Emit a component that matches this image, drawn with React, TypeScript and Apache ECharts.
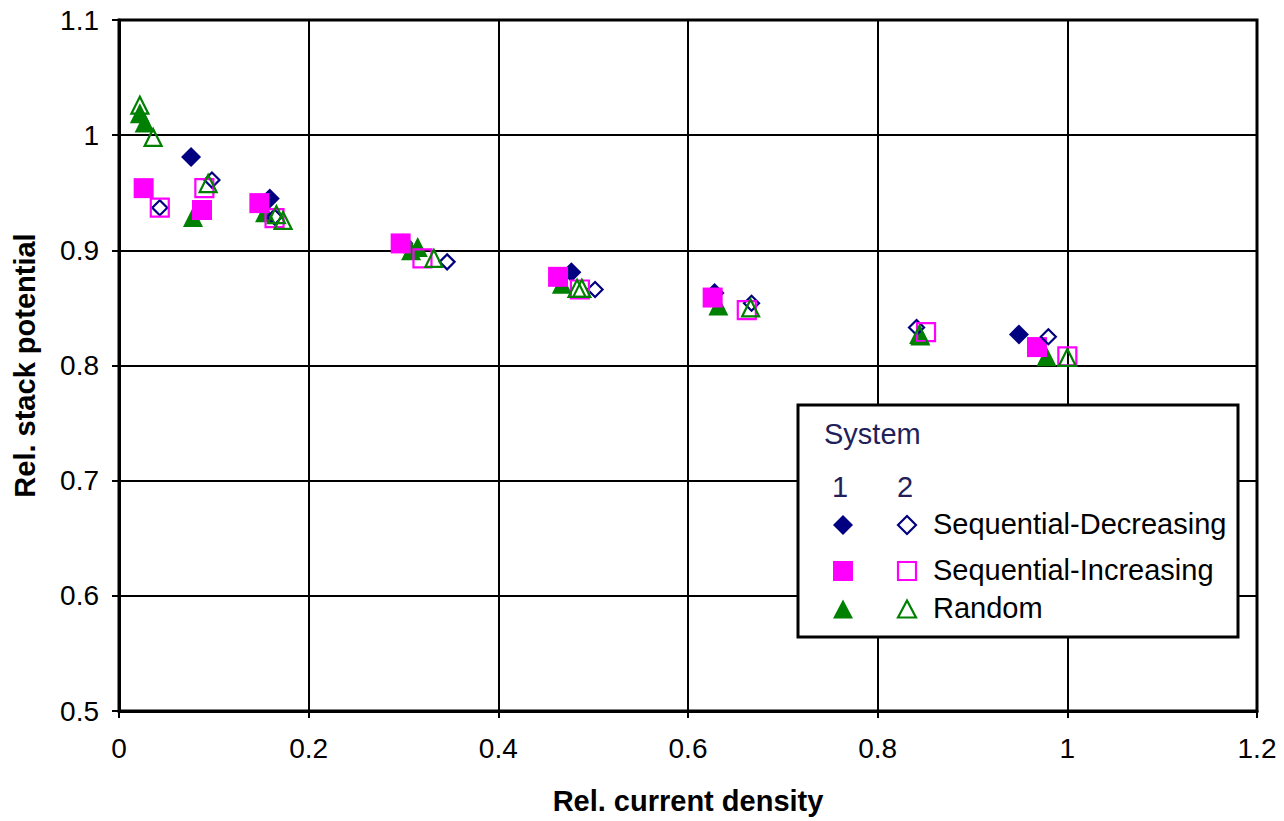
import React, { useEffect, useRef } from "react";
import * as echarts from "echarts";

// System 1 (filled markers)
const sys1Decreasing: number[][] = [
  [0.076, 0.981], [0.159, 0.945], [0.300, 0.906], [0.477, 0.881], [0.628, 0.863], [0.949, 0.827],
];
const sys1Increasing: number[][] = [
  [0.026, 0.954], [0.0875, 0.935], [0.148, 0.941], [0.297, 0.906], [0.463, 0.877], [0.626, 0.859], [0.968, 0.816],
];
const sys1Random: number[][] = [
  [0.022, 1.019], [0.027, 1.011], [0.078, 0.929], [0.154, 0.933], [0.308, 0.900], [0.315, 0.903],
  [0.467, 0.871], [0.632, 0.852], [0.845, 0.826], [0.978, 0.808],
];
// System 2 (open markers)
const sys2Decreasing: number[][] = [
  [0.043, 0.937], [0.098, 0.961], [0.164, 0.929], [0.346, 0.890], [0.502, 0.866], [0.667, 0.854], [0.841, 0.833], [0.980, 0.825],
];
const sys2Increasing: number[][] = [
  [0.043, 0.937], [0.090, 0.954], [0.164, 0.928], [0.320, 0.893], [0.486, 0.866], [0.662, 0.848], [0.851, 0.829], [1.0, 0.808],
];
const sys2Random: number[][] = [
  [0.022, 1.026], [0.036, 0.998], [0.094, 0.958], [0.166, 0.931], [0.173, 0.926], [0.332, 0.893],
  [0.483, 0.867], [0.488, 0.867], [0.666, 0.850], [0.844, 0.827], [1.0, 0.807],
];

const legendHeader = "System";
const legendColumns = ["1", "2"];
const legendLabels = ["Sequential-Decreasing", "Sequential-Increasing", "Random"];

const NAVY = "#000080";
const MAGENTA = "#ff00ff";
const GREEN = "#008000";
const FONT = "Liberation Sans, Arial, sans-serif";

export default function App() {
  const ref = useRef<HTMLDivElement>(null);
  useEffect(() => {
    if (!ref.current) return;
    const chart = echarts.init(ref.current, null, { renderer: "svg" });

    const filled = (name: string, data: number[][], symbol: string, size: number, color: string) => ({
      name, type: "scatter", data, symbol, symbolSize: size,
      itemStyle: { color, opacity: 1 },
      emphasis: { disabled: true },
    });
    const open = (name: string, data: number[][], symbol: string, size: number, color: string) => ({
      name, type: "scatter", data, symbol, symbolSize: size,
      itemStyle: { color: "rgba(255,255,255,0)", borderColor: color, borderWidth: 2.2, opacity: 1 },
      emphasis: { disabled: true },
    });

    // legend marker helpers
    const mx = [843, 907];
    const my = [525, 571, 609];
    const diamond = (cx: number, cy: number, r: number) => [[cx, cy - r], [cx + r, cy], [cx, cy + r], [cx - r, cy]];
    const tri = (cx: number, cy: number, w: number, h: number) => [[cx, cy - h / 2], [cx + w / 2, cy + h / 2], [cx - w / 2, cy + h / 2]];
    const LF = `29px ${FONT}`;

    const legendGraphic: any[] = [
      { type: "rect", shape: { x: 798, y: 405, width: 440, height: 232 }, style: { fill: "#fff", stroke: "#000", lineWidth: 3 }, z: 100 },
      { type: "text", x: 824, y: 434, style: { text: legendHeader, font: LF, fill: "#221f5a", textVerticalAlign: "middle" }, z: 101 },
      { type: "text", x: 840, y: 487, style: { text: legendColumns[0], font: LF, fill: "#221f5a", textAlign: "center", textVerticalAlign: "middle" }, z: 101 },
      { type: "text", x: 905, y: 487, style: { text: legendColumns[1], font: LF, fill: "#221f5a", textAlign: "center", textVerticalAlign: "middle" }, z: 101 },
      { type: "polygon", shape: { points: diamond(mx[0], my[0], 10) }, style: { fill: NAVY }, z: 101 },
      { type: "polygon", shape: { points: diamond(mx[1], my[0], 9) }, style: { fill: "#fff", stroke: NAVY, lineWidth: 2.2 }, z: 101 },
      { type: "rect", shape: { x: mx[0] - 10, y: my[1] - 10, width: 20, height: 20 }, style: { fill: MAGENTA }, z: 101 },
      { type: "rect", shape: { x: mx[1] - 9, y: my[1] - 9, width: 18, height: 18 }, style: { fill: "#fff", stroke: MAGENTA, lineWidth: 2.2 }, z: 101 },
      { type: "polygon", shape: { points: tri(mx[0], my[2], 20, 19) }, style: { fill: GREEN }, z: 101 },
      { type: "polygon", shape: { points: tri(mx[1], my[2], 18, 17) }, style: { fill: "#fff", stroke: GREEN, lineWidth: 2.2 }, z: 101 },
    ];
    legendLabels.forEach((t, i) => {
      legendGraphic.push({
        type: "text", x: 933, y: my[i] - 1,
        style: { text: t, font: LF, fill: "#000", textVerticalAlign: "middle" }, z: 101,
      });
    });

    chart.setOption({
      animation: false,
      backgroundColor: "#fff",
      grid: { left: 119, right: 27, top: 20, bottom: 110, show: true, borderColor: "#000", borderWidth: 3, backgroundColor: "transparent" },
      xAxis: {
        type: "value", min: 0, max: 1.2, interval: 0.2,
        name: "Rel. current density", nameLocation: "middle", nameGap: 75,
        nameTextStyle: { fontFamily: FONT, fontWeight: "bold", fontSize: 29, color: "#000" },
        axisLine: { show: true, lineStyle: { color: "#000", width: 3 } },
        axisTick: { show: true, length: 7, lineStyle: { color: "#000", width: 2 } },
        axisLabel: { fontFamily: FONT, fontSize: 28, color: "#000", margin: 23, formatter: (v: number) => String(+v.toFixed(1)) },
        splitLine: { show: true, lineStyle: { color: "#000", width: 2 } },
      },
      yAxis: {
        type: "value", min: 0.5, max: 1.1, interval: 0.1,
        name: "Rel. stack potential", nameLocation: "middle", nameGap: 80,
        nameTextStyle: { fontFamily: FONT, fontWeight: "bold", fontSize: 29, color: "#000" },
        axisLine: { show: true, lineStyle: { color: "#000", width: 3 } },
        axisTick: { show: true, length: 7, lineStyle: { color: "#000", width: 2 } },
        axisLabel: { fontFamily: FONT, fontSize: 28, color: "#000", margin: 20, formatter: (v: number) => String(+v.toFixed(1)) },
        splitLine: { show: true, lineStyle: { color: "#000", width: 2 } },
      },
      series: [
        filled("1 Sequential-Decreasing", sys1Decreasing, "diamond", 20, NAVY),
        filled("1 Random", sys1Random, "triangle", 20, GREEN),
        filled("1 Sequential-Increasing", sys1Increasing, "rect", 20, MAGENTA),
        open("2 Sequential-Decreasing", sys2Decreasing, "diamond", 15, NAVY),
        open("2 Sequential-Increasing", sys2Increasing, "rect", 18, MAGENTA),
        open("2 Random", sys2Random, "triangle", 17, GREEN),
      ],
      graphic: legendGraphic,
    });
    return () => chart.dispose();
  }, []);
  return <div ref={ref} style={{ position: "fixed", left: 0, top: 0, width: 1284, height: 821 }} />;
}
